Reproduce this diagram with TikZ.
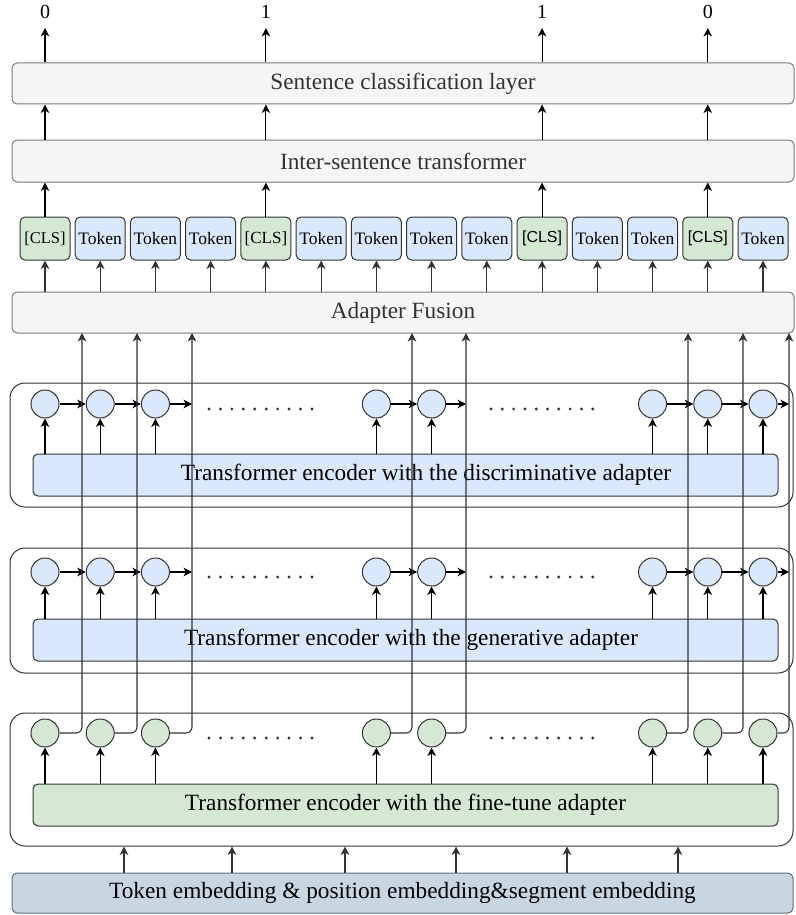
\documentclass[tikz,border=0pt]{standalone}
\usepackage{fontspec}
\setmainfont{Liberation Serif}
\newfontfamily\arialfont{Liberation Sans}
\usetikzlibrary{arrows.meta,calc}

\definecolor{layerfill}{HTML}{F5F5F5}
\definecolor{layerdraw}{HTML}{7A7A7A}
\definecolor{bluefill}{HTML}{DAE8FC}
\definecolor{greenfill}{HTML}{D5E8D4}
\definecolor{embfill}{HTML}{C8D6E2}
\definecolor{embdraw}{HTML}{5B6E80}
\definecolor{darkline}{HTML}{333333}
\definecolor{labeltext}{HTML}{333333}

\begin{document}
\begin{tikzpicture}[x=1pt,y=-1pt,
  layer/.style={draw=layerdraw, fill=layerfill, rounded corners=5pt, line width=1pt,
    minimum width=782pt, minimum height=41pt, inner sep=0pt,
    font=\fontsize{23.3}{28}\selectfont, text=labeltext},
  tok/.style={draw=darkline, fill=bluefill, rounded corners=5pt, line width=1pt,
    minimum width=50pt, minimum height=43pt, inner sep=0pt,
    font=\fontsize{17.5}{20}\selectfont},
  clsbox/.style={tok, fill=greenfill},
  outerbox/.style={draw=darkline, rounded corners=15pt, line width=1pt, inner sep=0pt,
    minimum width=783pt},
  encbox/.style={draw=darkline, rounded corners=5pt, line width=1pt, inner sep=0pt,
    minimum width=745pt, minimum height=42pt},
  enclabel/.style={font=\fontsize{23.3}{28}\selectfont, text=black},
  cell/.style={circle, draw=darkline, line width=1pt, minimum size=28pt, inner sep=0pt},
  arr/.style={-{Stealth[length=8.5pt,width=8.5pt,inset=2.5pt]}, line width=1.1pt, draw=black},
  link/.style={arr, draw=darkline, rounded corners=6pt},
  outlabel/.style={font=\fontsize{20}{24}\selectfont},
  dotmark/.style={fill=darkline, draw=none}
]
\useasboundingbox (0,0) rectangle (795,915);

% ---------- upper layers ----------
\node[layer] (scl) at (403,83.5) {Sentence classification layer};
\node[layer, minimum height=42pt] (ist) at (403,161) {Inter-sentence transformer};
\node[layer] (fusion) at (403,312.5) {Adapter Fusion};

% ---------- token row ----------
\foreach \i in {0,...,13} {
  \pgfmathsetmacro{\tx}{45+55.23*\i}
  \ifnum\i=0
    \node[clsbox, font=\fontsize{16.5}{19}\selectfont] (t\i) at (\tx,238.5) {[CLS]};
  \else\ifnum\i=4
    \node[clsbox, font=\fontsize{17}{19}\selectfont] (t\i) at (\tx,238.5) {[CLS]};
  \else\ifnum\i=9
    \node[clsbox, font=\arialfont\fontsize{16}{19}\selectfont] (t\i) at (\tx,238.5) {[CLS]};
  \else\ifnum\i=12
    \node[clsbox, font=\arialfont\fontsize{16}{19}\selectfont] (t\i) at (\tx,238.5) {[CLS]};
  \else
    \node[tok] (t\i) at (\tx,238.5) {Token};
  \fi\fi\fi\fi
  \draw[arr, draw=darkline] (t\i |- fusion.north) -- (t\i.south);
}

% sentence outputs
\foreach \i/\lab in {0/0, 4/1, 9/1, 12/0} {
  \coordinate (o\i) at ($(t\i.center)+(0,-210.5)$);
  \draw[arr] (t\i.north) -- (t\i |- ist.south);
  \draw[arr] (t\i |- ist.north) -- (t\i |- scl.south);
  \draw[arr] (t\i |- scl.north) -- (o\i);
  \node[outlabel] (lab\i) at ($(o\i)+(0,-16.5)$) {\lab};
}

% ---------- encoder blocks ----------
\node[outerbox, minimum height=124pt] (douter) at (401.5,445) {};
\node[outerbox, minimum height=125pt] (gouter) at (401.5,610.5) {};
\node[outerbox, minimum height=133pt] (fouter) at (401.5,779.5) {};

\node[encbox, fill=bluefill] (dinner) at (405.5,475) {};
\node[enclabel] (dtext) at (426,475) {Transformer encoder with the discriminative adapter};
\node[encbox, fill=bluefill] (ginner) at (405.5,640) {};
\node[enclabel] (gtext) at (411,640) {Transformer encoder with the generative adapter};
\node[encbox, fill=greenfill] (finner) at (405.5,805) {};
\node[enclabel] (ftext) at (405.5,805) {Transformer encoder with the fine-tune adapter};

% fusion inputs
\foreach \k/\ux in {0/82, 1/137, 2/192, 6/412, 7/466, 11/688, 12/743, 13/789}
  \coordinate (u\k) at (\ux,333);

\foreach \blk/\cy/\cf in {d/404/bluefill, g/572/bluefill, f/733/greenfill} {
  \foreach \i in {0,1,2,6,7,11,12,13} {
    \node[cell, fill=\cf] (\blk\i) at ({45+55.23*\i},\cy) {};
    \draw[arr] (\blk\i |- \blk inner.north) -- (\blk\i.south);
  }
  \foreach \s in {0,...,9} {
    \fill[dotmark] ({209+11.44*\s},\cy+5) circle (1.6pt);
    \fill[dotmark] ({491+11.3*\s},\cy+5) circle (1.6pt);
  }
}

% recurrent arrows in the two upper encoders
\foreach \blk in {d,g} {
  \draw[arr] (\blk0.east) -- (\blk1.west);
  \draw[arr] (\blk1.east) -- (\blk2.west);
  \draw[arr] (\blk2.east) -- (\blk2.east -| u2);
  \draw[arr] (\blk6.east) -- (\blk7.west);
  \draw[arr] (\blk7.east) -- (\blk7.east -| u7);
  \draw[arr] (\blk11.east) -- (\blk12.west);
  \draw[arr] (\blk12.east) -- (\blk13.west);
  \draw[arr] (\blk13.east) -- (\blk13.east -| u13);
}

% fine-tune outputs routed up to the fusion layer
\foreach \i in {0,1,2,6,7,11,12,13}
  \draw[link] (f\i.east) -| (u\i);

% ---------- embedding layer ----------
\node[draw=embdraw, fill=embfill, rounded corners=5pt, line width=1pt, inner sep=0pt,
      minimum width=781pt, minimum height=40pt,
      font=\fontsize{23.3}{28}\selectfont] (emb) at (402.5,893)
  {Token embedding \& position embedding\&segment embedding};
\foreach \x in {124,232,345,456,567,678}
  \draw[arr, draw=darkline] (\x,0 |- emb.north) -- (\x,0 |- fouter.south);

\end{tikzpicture}
\end{document}
